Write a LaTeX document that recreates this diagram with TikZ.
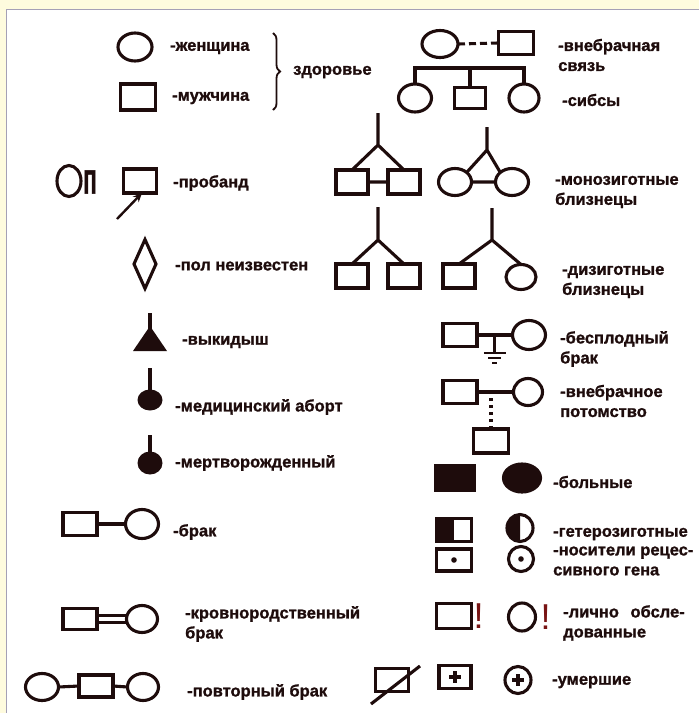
\documentclass[tikz,border=0pt]{standalone}
\usepackage{fontspec}
\setmainfont{Liberation Sans}[BoldFeatures={FakeBold=1.2}]
\usepackage{graphicx,xcolor}
\definecolor{pdink}{RGB}{30,12,12}
\definecolor{pdred}{RGB}{120,20,20}
\definecolor{pdframe}{RGB}{165,160,182}
\definecolor{pdpaper}{RGB}{254,251,222}
\usetikzlibrary{arrows.meta,positioning,shapes.geometric,calc,decorations.pathreplacing}
\newcommand{\lblfont}{\fontsize{16.5}{20}\selectfont\bfseries}
\tikzset{
  female/.style={draw=pdink, ellipse, line width=3.1pt, inner sep=0pt, outer sep=0pt,
                 minimum width=33pt, minimum height=28pt},
  male/.style={draw=pdink, rectangle, line width=3.1pt, inner sep=0pt, outer sep=0pt,
               minimum width=34pt, minimum height=24pt},
  unknown/.style={draw=pdink, diamond, line width=3.1pt, inner sep=0pt, outer sep=0pt,
                  minimum width=22pt, minimum height=49pt},
  fetus/.style={fill=pdink, ellipse, inner sep=0pt, outer sep=0pt,
                minimum width=25pt, minimum height=21pt},
  link/.style={draw=pdink, line width=3.1pt},
  stem/.style={draw=pdink, line width=3.2pt},
  lbl/.style={text=pdink, font=\lblfont, anchor=west, align=left, inner sep=0pt},
  excl/.style={text=pdred, font=\fontsize{36}{36}\selectfont, inner sep=0pt},
}

\begin{document}
\begin{tikzpicture}[x=1pt, y=-1pt]
\useasboundingbox (0,0) rectangle (699,713);
\fill[pdpaper] (0,0) rectangle (699,713);
\filldraw[fill=white, draw=pdframe, line width=1.5pt] (6.5,9.5) rectangle (720,730);

% Column 1: healthy woman and man
\node[female, minimum width=34pt] (woman) at (135,47) {};
\node[male, minimum width=35pt, minimum height=26pt] (man) at (138,97) {};
\node[lbl] (woman-l) at (170,48) {-женщина};
\node[lbl] (man-l) at (172,98) {-мужчина};
\coordinate (br-top) at (273,33);
\coordinate (br-bot) at (273,110);
\draw[pdink, line width=1.8pt, decorate, decoration={brace, amplitude=7pt}] (br-top) -- (br-bot);
\node[lbl] (healthy-l) at (293,72) {здоровье};

% proband
\node[female, minimum width=24pt, minimum height=31pt] (pb-f) at (69,181) {};
\node[text=pdink, font=\fontsize{36}{36}\selectfont\bfseries, inner sep=0pt] (pb-p) at (90,182) {\scalebox{0.62}[1.22]{п}};
\node[male, minimum width=33pt] (proband) at (140,181) {};
\coordinate (pb-tail) at (117,219);
\draw[link, line width=2.4pt, -{Stealth[length=9pt,width=8pt]}] (pb-tail) -- ([xshift=2pt]proband.south);
\node[lbl] (proband-l) at (173,183) {-пробанд};

% unknown sex
\node[unknown] (nosex) at (145,264) {};
\node[lbl] (nosex-l) at (175,266) {-пол неизвестен};

% miscarriage, abortion, stillbirth
\coordinate (misc-top) at (150,313);
\coordinate (misc-apex) at (150,326);
\fill[pdink] (misc-apex) -- (167,351) -- (133,351) -- cycle;
\draw[stem] (misc-top) -- (150,336);
\node[lbl] (misc-l) at (182,342) {-выкидыш};

\node[fetus] (abort) at (150,400) {};
\coordinate (abort-top) at (150,368);
\draw[stem] (abort-top) -- (abort.north);
\node[lbl] (abort-l) at (175,407) {-медицинский аборт};

\node[fetus, minimum height=23pt] (still) at (150,463) {};
\coordinate (still-top) at (150,435);
\draw[stem] (still-top) -- (still.north);
\node[lbl] (still-l) at (175,463) {-мертворожденный};

% marriages
\node[male, minimum height=23pt] (mar-m) at (80,524) {};
\node[female, minimum height=29pt] (mar-f) at (142,524) {};
\draw[link] (mar-m.east) -- (mar-f.west);
\node[lbl] (mar-l) at (173,532) {-брак};

\node[male, minimum height=21pt] (con-m) at (80,619) {};
\node[female, minimum width=31pt, minimum height=27pt] (con-f) at (142,619) {};
\draw[link, line width=2.2pt] ([yshift=3.5pt]con-m.east) -- ([yshift=3.5pt]con-f.west)
                            ([yshift=-3.5pt]con-m.east) -- ([yshift=-3.5pt]con-f.west);
\node[lbl] (con-l) at (185,624) {-кровнородственный\\брак};

\node[female, minimum height=27pt] (rep-f1) at (42,687) {};
\node[male, minimum height=22pt] (rep-m) at (96,686) {};
\node[female, minimum width=31pt, minimum height=27pt] (rep-f2) at (143,687) {};
\draw[link] (rep-f1.east) -- (rep-m.west) (rep-m.east) -- (rep-f2.west);
\node[lbl] (rep-l) at (187,692) {-повторный брак};

% Column 2: extramarital relation and sibs
\node[female, minimum width=36pt, minimum height=27pt] (ex-f) at (440,44) {};
\node[male, minimum width=35pt, minimum height=23pt] (ex-m) at (516,43) {};
\draw[link, dash pattern=on 7pt off 4pt] (ex-f.east) -- (ex-m.west);
\node[lbl] (ex-l) at (558,55) {-внебрачная\\связь};

\node[female] (sib1) at (415,98) {};
\node[male, minimum width=31pt, minimum height=21pt] (sib2) at (470,98) {};
\node[female, minimum width=30pt] (sib3) at (524,98) {};
\coordinate (sibbar) at (470,68);
\draw[link] (sib1.north) |- (sibbar) -| (sib3.north);
\draw[link] (sib2.north) -- (sib2.north |- sibbar);
\node[lbl] (sib-l) at (562,100) {-сибсы};

% twins
\coordinate (mz1-top) at (378,113);
\coordinate (mz1-apex) at (378,145);
\node[male, minimum width=32pt] (mz1-a) at (352,182) {};
\node[male, minimum width=32pt] (mz1-b) at (404,182) {};
\draw[link] (mz1-top) -- (mz1-apex) -- (mz1-a.north) (mz1-apex) -- (mz1-b.north)
            (mz1-a.east) -- (mz1-b.west);

\coordinate (mz2-top) at (487,127);
\coordinate (mz2-apex) at (487,150);
\node[female, minimum height=27pt] (mz2-a) at (455,182) {};
\node[female, minimum height=27pt] (mz2-b) at (512,182) {};
\draw[link] (mz2-top) -- (mz2-apex) -- (mz2-a.north east) (mz2-apex) -- (mz2-b.north west)
            (mz2-a.east) -- (mz2-b.west);
\node[lbl] (mz-l) at (555,192) {-монозиготные\\близнецы};

\coordinate (dz1-top) at (378,207);
\coordinate (dz1-apex) at (378,240);
\node[male, minimum width=32pt] (dz1-a) at (352,276) {};
\node[male, minimum width=32pt] (dz1-b) at (404,276) {};
\draw[link] (dz1-top) -- (dz1-apex) -- (dz1-a.north) (dz1-apex) -- (dz1-b.north);

\coordinate (dz2-top) at (492,208);
\coordinate (dz2-apex) at (492,240);
\node[male, minimum width=32pt] (dz2-a) at (459,276) {};
\node[female, minimum width=30pt, minimum height=25pt] (dz2-b) at (521,277) {};
\draw[link] (dz2-top) -- (dz2-apex) -- (dz2-a.north) (dz2-apex) -- (dz2-b.north);
\node[lbl] (dz-l) at (562,282) {-дизиготные\\близнецы};

% infertile marriage
\node[male, minimum height=23pt] (inf-m) at (460,335) {};
\node[female, minimum height=29pt] (inf-f) at (529,335) {};
\draw[link] (inf-m.east) -- (inf-f.west);
\coordinate (inf-mid) at ($(inf-m.east)!0.5!(inf-f.west)$);
\coordinate (inf-gnd) at ($(inf-mid)+(0,18)$);
\draw[link] (inf-mid) -- (inf-gnd);
\draw[link, line width=1.8pt] ($(inf-gnd)+(-11,0)$) -- ++(22,0)
      ($(inf-gnd)+(-6.5,5)$) -- ++(13,0) ($(inf-gnd)+(-2.5,10)$) -- ++(5,0);
\node[lbl] (inf-l) at (560,349) {-бесплодный\\брак};

% offspring out of wedlock
\node[male, minimum height=23pt] (il-m) at (460,392) {};
\node[female, minimum width=29pt, minimum height=27pt] (il-f) at (528,392) {};
\draw[link] (il-m.east) -- (il-f.west);
\node[male, minimum width=35pt] (il-child) at (491,441) {};
\draw[link, line width=3.2pt, dash pattern=on 3.5pt off 3.5pt] (il-child.north) -- (il-child.north |- il-m.east);
\node[lbl] (il-l) at (560,401) {-внебрачное\\потомство};

% affected, heterozygous, carriers
\node[male, fill=pdink, minimum width=38pt, minimum height=25pt] (aff-m) at (455,478) {};
\node[female, fill=pdink, minimum width=37pt] (aff-f) at (522,478) {};
\node[lbl] (aff-l) at (553,482) {-больные};

\node[male, minimum width=35pt, minimum height=23pt] (het-m) at (454,530) {};
\fill[pdink] (het-m.north west) rectangle (het-m.south);
\node[female, minimum width=26pt, minimum height=27pt] (het-f) at (520,528) {};
\fill[pdink] (het-f.north) arc[start angle=90, end angle=270, x radius=13pt, y radius=13.5pt] -- cycle;
\node[lbl] (het-l) at (553,534) {-гетерозиготные};

\node[male, minimum width=35pt, minimum height=22pt] (car-m) at (454,560) {};
\fill[pdink] (car-m) circle[radius=2.8pt];
\node[female, minimum width=25pt, minimum height=25pt] (car-f) at (521,559) {};
\fill[pdink] (car-f) circle[radius=2.8pt];
\node[lbl] (car-l) at (553,561) {-носители рецес-\\сивного гена};

% examined personally
\node[male, minimum width=35pt, minimum height=25pt] (exam-m) at (454,616) {};
\node[excl, right=2pt of exam-m] (exam-m-x) {!};
\node[female, minimum width=27pt, minimum height=28pt] (exam-f) at (522,617) {};
\node[excl, right=5pt of exam-f] (exam-f-x) {!};
\node[lbl] (exam-l) at (563,623) {-лично\hspace{7pt} обсле-\\дованные};

% deceased
\node[male, minimum width=33pt, minimum height=23pt] (dead-a) at (392,680) {};
\coordinate (slash-lo) at (371,704);
\coordinate (slash-hi) at (420,666);
\draw[link] (slash-lo) -- (slash-hi);
\node[male, minimum width=32pt, minimum height=23pt] (dead-b) at (455,677) {};
\draw[link] ($(dead-b)+(-6,0)$) -- ++(12,0) ($(dead-b)+(0,-6)$) -- ++(0,12);
\node[female, minimum width=26pt, minimum height=27pt] (dead-c) at (518,680) {};
\draw[link] ($(dead-c)+(-6,0)$) -- ++(12,0) ($(dead-c)+(0,-6)$) -- ++(0,12);
\node[lbl] (dead-l) at (552,682) {-умершие};
\end{tikzpicture}
\end{document}
